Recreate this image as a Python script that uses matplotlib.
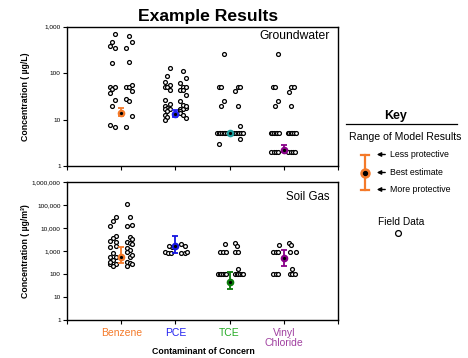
import matplotlib
matplotlib.use("Agg")
import matplotlib.pyplot as plt
from matplotlib.ticker import FixedLocator, FuncFormatter, NullLocator

plt.rcParams['font.family'] = ['Liberation Sans', 'DejaVu Sans']

categories = ['Benzene', 'PCE', 'TCE', 'Vinyl\nChloride']
cat_colors = ['#F47A2A', '#2222F0', '#22AA22', '#A040A0']

# ---------------- Groundwater field data (ug/L) ----------------
gw_benzene_vals = [675, 630, 460, 455, 375, 343, 343, 161, 172, 50, 46, 49, 49, 49, 54, 37, 41,
                   26, 27.6, 25, 19.5, 11.8, 7.8, 6.9, 7]
gw_benzene_dx = [-0.11, 0.15, -0.165, 0.20, -0.215, -0.11, 0.09, -0.165, 0.14, -0.215, -0.165, -0.11,
                 0.09, 0.14, 0.20, -0.215, 0.20, -0.11, 0.09, 0.14, -0.165, 0.20, -0.215, -0.11, 0.09]

gw_pce_vals = [130, 110, 86, 77, 65, 61, 54, 49, 49, 49, 49, 44, 43, 43, 33, 26, 25, 22, 21, 19.5,
               18, 18, 17, 17, 17, 17, 15, 15, 12.3, 13.5, 11.6, 11, 10, 12.3, 20]
gw_pce_dx = [-0.105, 0.14, -0.155, 0.20, -0.20, 0.09, -0.105, -0.20, -0.155, 0.14, 0.20, 0.09, -0.105,
             0.14, 0.20, -0.20, 0.09, -0.105, 0.14, -0.20, -0.155, 0.20, -0.20, -0.105, 0.09, 0.14,
             -0.155, 0.09, -0.20, 0.09, -0.155, 0.20, -0.20, 0.14, 0.20]

gw_tce_vals = [250, 50, 50, 50, 50, 41, 25, 20, 20, 7.2, 3.9, 3.0,
               5, 5, 5, 5, 5, 5, 5, 5, 5, 5, 5, 5, 5, 5]
gw_tce_dx = [-0.105, -0.20, -0.155, 0.16, 0.20, 0.105, -0.105, -0.155, 0.15, 0.20, 0.20, -0.20,
             -0.23, -0.20, -0.17, -0.14, -0.11, -0.08, -0.05, 0.06, 0.09, 0.12, 0.15, 0.18, 0.21, 0.24]

gw_vc_vals = [250, 50, 50, 50, 50, 40, 25, 20, 20,
              5, 5, 5, 5, 5, 5, 5, 5, 5, 5, 5, 5,
              2, 2, 2, 2, 2, 2, 2, 2]
gw_vc_dx = [-0.11, -0.20, -0.155, 0.14, 0.19, 0.09, -0.115, -0.16, 0.14,
            -0.24, -0.21, -0.18, -0.15, -0.12, -0.09, 0.07, 0.10, 0.13, 0.16, 0.19, 0.22,
            -0.235, -0.19, -0.145, -0.10, 0.08, 0.125, 0.17, 0.215]

gw_best = [13.5, 13.0, 5.0, 2.2]
gw_low = [11.8, 11.6, 5.0, 2.0]
gw_high = [17.8, 16.3, 5.0, 2.8]
gw_best_colors = ['#F47A2A', '#2222F0', '#20A0A0', '#880088']

# ---------------- Soil gas field data (ug/m3) ----------------
sg_benzene_vals = [113000, 30000, 30000, 20000, 14000, 12000, 12000, 4600, 3900, 4300, 3300, 2900,
                   2600, 2600, 2300, 2000, 1500, 1600, 1400, 1100, 810, 900, 540, 560, 540, 650,
                   410, 350, 275, 275, 290, 275, 225, 330, 230]
sg_benzene_dx = [0.10, -0.09, 0.16, -0.15, 0.20, -0.20, 0.10, -0.09, -0.15, 0.16, 0.20, -0.20,
                 -0.09, 0.10, 0.16, 0.20, -0.20, -0.09, 0.10, 0.16, -0.15, 0.10, -0.20, -0.09,
                 0.16, 0.20, -0.15, 0.10, -0.20, -0.09, 0.16, 0.20, -0.15, -0.20, 0.10]

sg_pce_vals = [1550, 1600, 2100, 1700, 900, 810, 810, 830, 960, 850]
sg_pce_dx = [-0.07, -0.11, 0.11, 0.17, -0.19, -0.14, 0.11, 0.17, 0.21, -0.09]

sg_tce_vals = [2000, 2200, 1700, 880, 960, 880, 880, 880, 170,
               100, 100, 100, 100, 100, 100, 100, 100, 100, 100, 100, 100]
sg_tce_dx = [-0.09, 0.10, 0.14, -0.18, -0.12, -0.07, 0.10, 0.16, 0.16,
             -0.21, -0.18, -0.15, -0.12, -0.09, -0.06, 0.10, 0.13, 0.16, 0.19, 0.22, 0.25]

sg_vc_vals = [1900, 2200, 1800, 900, 900, 880, 880, 880, 170, 100, 100, 100, 100, 100, 100]
sg_vc_dx = [-0.09, 0.10, 0.14, -0.20, -0.15, -0.10, 0.12, 0.22, 0.15,
            -0.20, -0.15, -0.10, 0.11, 0.16, 0.21]

sg_best = [580, 1730, 45, 490]
sg_low = [295, 830, 22, 235]
sg_high = [1550, 4700, 125, 1130]
sg_best_colors = ['#F47A2A', '#1515E0', '#0A7A0A', '#880088']

gw_ticks = [1, 10, 100, 1000]
sg_ticks = [1, 10, 100, 1000, 10000, 100000, 1000000]

W, H = 468, 358
fig = plt.figure(figsize=(W / 100, H / 100), dpi=100)

def px_axes(l, r, t, b):
    return fig.add_axes([l / W, 1 - b / H, (r - l) / W, (b - t) / H])

ax1 = px_axes(67, 338, 26.5, 166)
ax2 = px_axes(67, 338, 182.3, 320)

fmt = FuncFormatter(lambda v, p: f"{int(round(v)):,}")

def draw(ax, vals_list, dx_list, best, low, high, bcolors, ticks, ylim):
    for i, (vals, dx) in enumerate(zip(vals_list, dx_list)):
        xs = [i + 1 + d for d in dx]
        ax.plot(xs, vals, linestyle='none', marker='o', ms=2.8, mfc='white', mec='black', mew=0.9,
                zorder=3)
    for i in range(len(best)):
        yerr = [[best[i] - low[i]], [high[i] - best[i]]]
        ax.errorbar([i + 1], [best[i]], yerr=yerr, fmt='o', color=bcolors[i], ms=4.5, mec=bcolors[i],
                    elinewidth=1.3, capsize=2.4, capthick=1.3, zorder=4)
        ax.plot([i + 1], [best[i]], 'o', color='black', ms=1.3, zorder=5)
    ax.set_yscale('log')
    ax.set_ylim(*ylim)
    ax.set_xlim(0, 5)
    ax.yaxis.set_major_locator(FixedLocator(ticks))
    ax.yaxis.set_minor_locator(NullLocator())
    ax.yaxis.set_major_formatter(fmt)
    ax.set_xticks([0, 1, 2, 3, 4, 5])
    ax.tick_params(axis='both', direction='out', length=3, width=0.8, labelsize=4.6, pad=1.5)
    for s in ax.spines.values():
        s.set_linewidth(1.0)
        s.set_color('black')

draw(ax1, [gw_benzene_vals, gw_pce_vals, gw_tce_vals, gw_vc_vals],
     [gw_benzene_dx, gw_pce_dx, gw_tce_dx, gw_vc_dx],
     gw_best, gw_low, gw_high, gw_best_colors, gw_ticks, (1, 1000))
ax1.set_xticklabels([])
draw(ax2, [sg_benzene_vals, sg_pce_vals, sg_tce_vals, sg_vc_vals],
     [sg_benzene_dx, sg_pce_dx, sg_tce_dx, sg_vc_dx],
     sg_best, sg_low, sg_high, sg_best_colors, sg_ticks, (1, 1000000))
ax2.set_xticklabels([''] + categories + [''])
ax2.tick_params(axis='x', labelsize=7.5, pad=3)
for lab, c in zip(ax2.get_xticklabels()[1:5], cat_colors):
    lab.set_color(c)
    lab.set_linespacing(1.0)

ax1.text(0.97, 0.93, 'Groundwater', transform=ax1.transAxes, ha='right', va='center', fontsize=8.7)
ax2.text(0.97, 0.89, 'Soil Gas', transform=ax2.transAxes, ha='right', va='center', fontsize=8.3)

fig.text(208 / W, 1 - 17 / H, 'Example Results', ha='center', va='center', fontsize=12.6, fontweight='bold')
fig.text(26 / W, 1 - 97 / H, 'Concentration ( µg/L)', rotation=90, ha='center', va='center',
         fontsize=6.3, fontweight='bold')
fig.text(26 / W, 1 - 251 / H, 'Concentration ( µg/m³)', rotation=90, ha='center', va='center',
         fontsize=6.3, fontweight='bold')
fig.text(203 / W, 1 - 352 / H, 'Contaminant of Concern', ha='center', va='center',
         fontsize=6.3, fontweight='bold')

# ---------------- Key (pixel coordinate overlay) ----------------
kx = fig.add_axes([0, 0, 1, 1])
kx.set_xlim(0, W)
kx.set_ylim(H, 0)
kx.axis('off')
kx.text(396, 116.5, 'Key', ha='center', va='center', fontsize=9, fontweight='bold')
kx.plot([346, 457], [124, 124], color='black', lw=0.9)
kx.text(405.5, 136.5, 'Range of Model Results', ha='center', va='center', fontsize=7.6)
kx.plot([365, 365], [154.5, 189.5], color='#F47A2A', lw=1.6)
kx.plot([361, 369], [154.5, 154.5], color='#F47A2A', lw=1.6)
kx.plot([361, 369], [189.5, 189.5], color='#F47A2A', lw=1.6)
kx.plot([365], [172.5], 'o', color='#F47A2A', ms=6.5)
kx.plot([365], [172.5], marker='o', color='black', ms=2.8, ls='none')
for yy, t in [(154.5, 'Less protective'), (172.5, 'Best estimate'), (189.5, 'More protective')]:
    kx.annotate('', xy=(374, yy), xytext=(388, yy),
                arrowprops=dict(arrowstyle='-|>', color='black', lw=1.0, mutation_scale=6))
    kx.text(389.5, yy, t, ha='left', va='center', fontsize=6.3)
kx.text(401, 222, 'Field Data', ha='center', va='center', fontsize=7.3)
kx.plot([398], [233], 'o', mfc='white', mec='black', ms=4.2, mew=0.9)

fig.savefig('out.png', dpi=100)
